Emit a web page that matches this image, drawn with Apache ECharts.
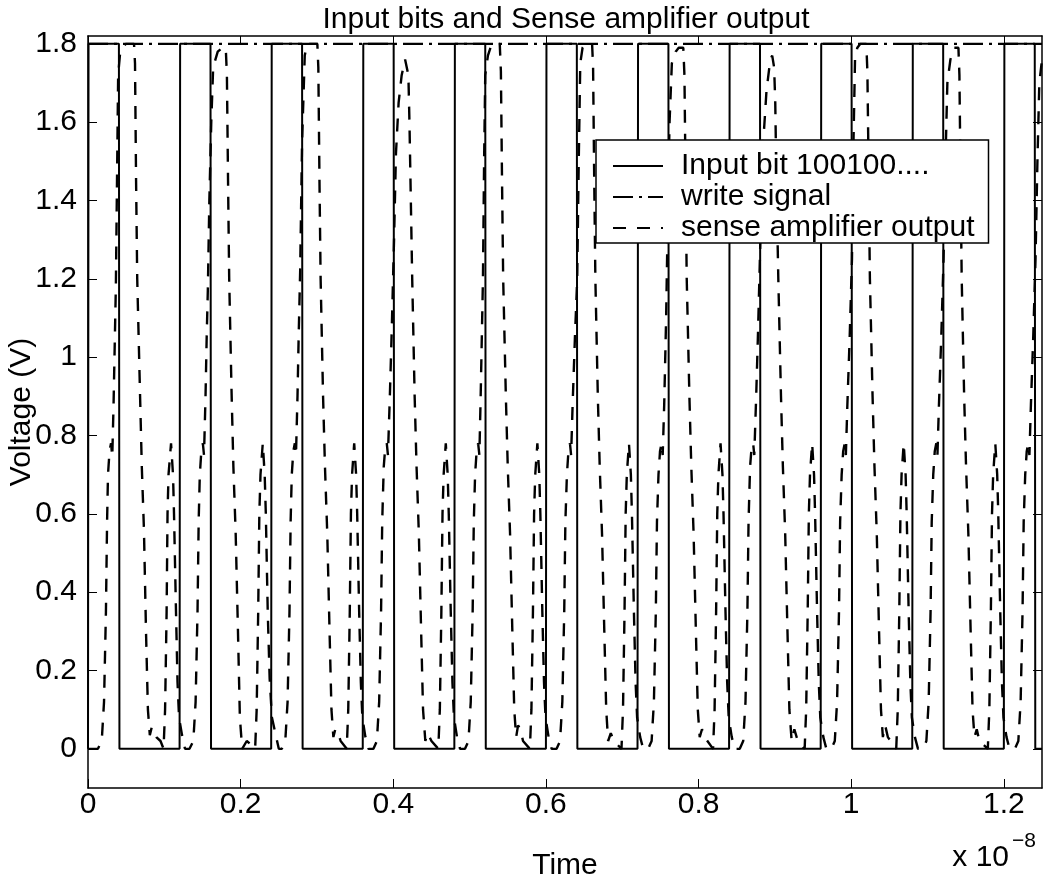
<!DOCTYPE html>
<html lang="en">

<head>
    <meta charset="UTF-8">
    <title>Input bits and Sense amplifier output</title>
    <script src="https://cdn.jsdelivr.net/npm/echarts@6/dist/echarts.min.js"></script>
    <style type="text/css">
    body {
        margin: 0;
        background: #fff;
    }
    .chart-content {
        width: 1047px;
        height: 883px;
    }
    </style>
</head>

<body>
    <div id="main" class="chart-content"></div>
    <script type="text/javascript">
        // time axis is in units of 1e-8 s
        var xTicks = [0, 0.2, 0.4, 0.6, 0.8, 1, 1.2];
        var xTickLabels = ['0', '0.2', '0.4', '0.6', '0.8', '1', '1.2'];
        var yTicks = [0, 0.2, 0.4, 0.6, 0.8, 1, 1.2, 1.4, 1.6, 1.8];
        var yTickLabels = ['0', '0.2', '0.4', '0.6', '0.8', '1', '1.2', '1.4', '1.6', '1.8'];

        // input bit 100100... (solid)
        var inputTime = [0, 0.0007, 0.0405, 0.0412, 0.12, 0.1207, 0.1605, 0.1612, 0.24, 0.2407, 0.2805, 0.2812,
            0.36, 0.3607, 0.4005, 0.4012, 0.48, 0.4807, 0.5205, 0.5212, 0.6, 0.6007, 0.6405, 0.6412,
            0.72, 0.7207, 0.7605, 0.7612, 0.84, 0.8407, 0.8805, 0.8812, 0.96, 0.9607, 1.0005, 1.0012,
            1.08, 1.0807, 1.1205, 1.1212, 1.2, 1.2007, 1.2405, 1.2412, 1.25];
        var inputVolt = [0, 1.8, 1.8, 0, 0, 1.8, 1.8, 0, 0, 1.8, 1.8, 0,
            0, 1.8, 1.8, 0, 0, 1.8, 1.8, 0, 0, 1.8, 1.8, 0,
            0, 1.8, 1.8, 0, 0, 1.8, 1.8, 0, 0, 1.8, 1.8, 0,
            0, 1.8, 1.8, 0, 0, 1.8, 1.8, 0, 0];

        // write signal (dash-dot)
        var writeTime = [0, 1.25];
        var writeVolt = [1.8, 1.8];

        // sense amplifier output (dashed): [time inside period, volts], one list per read period
        var periodStart = [0, 0.12, 0.24, 0.36, 0.48, 0.6, 0.72, 0.84, 0.96, 1.08, 1.2];
        var sense1 = [[0,0],[0.013,0],[0.018,0.02],[0.021,0.12],[0.0235,0.35],[0.025,0.58],[0.0262,0.7],[0.0282,0.76],[0.0302,0.78],[0.0318,0.745],[0.0335,0.88],[0.035,1.03],[0.0365,1.18],[0.038,1.45],[0.0395,1.72],[0.042,1.775],[0.046,1.795],[0.05,1.8],[0.0603,1.8],[0.0616,1.75],[0.063,1.45],[0.0645,1.2],[0.068,0.92],[0.0705,0.72],[0.0733,0.56],[0.076,0.3],[0.0785,0.1],[0.081,0.035],[0.0835,0.055],[0.086,0.06],[0.0895,0.03],[0.095,0.02],[0.099,0],[0.101,0.1],[0.103,0.35],[0.1042,0.6],[0.1055,0.7],[0.1088,0.78],[0.1114,0.7],[0.1127,0.6],[0.1153,0.35],[0.1173,0.17],[0.1193,0.08],[0.1232,0.035],[0.1271,0]];
        var sense2 = [[0.013,0],[0.018,0.02],[0.021,0.12],[0.0235,0.35],[0.025,0.58],[0.0265,0.7],[0.0285,0.76],[0.0305,0.78],[0.032,0.75],[0.034,0.9],[0.0355,1.05],[0.037,1.17],[0.039,1.4],[0.0415,1.6],[0.044,1.74],[0.05,1.78],[0.056,1.79],[0.0605,1.79],[0.062,1.72],[0.0635,1.45],[0.065,1.2],[0.068,0.92],[0.0705,0.72],[0.0735,0.55],[0.0765,0.3],[0.079,0.08],[0.082,0],[0.088,0.02],[0.094,0.01],[0.099,0],[0.101,0.1],[0.103,0.35],[0.1045,0.6],[0.106,0.7],[0.109,0.78],[0.1115,0.7],[0.113,0.6],[0.1155,0.35],[0.118,0.18],[0.121,0.08],[0.1255,0.04],[0.13,0]];
        var sense3 = [[0.014,0],[0.0185,0.02],[0.0215,0.12],[0.024,0.35],[0.0255,0.58],[0.027,0.7],[0.029,0.76],[0.031,0.78],[0.0325,0.75],[0.0345,0.9],[0.036,1.05],[0.038,1.22],[0.0405,1.55],[0.044,1.77],[0.047,1.8],[0.0605,1.8],[0.0618,1.74],[0.0633,1.45],[0.0648,1.2],[0.068,0.9],[0.0705,0.72],[0.0735,0.55],[0.0765,0.3],[0.079,0.1],[0.0815,0.03],[0.084,0.05],[0.087,0.045],[0.091,0.02],[0.099,0],[0.101,0.1],[0.103,0.35],[0.1045,0.6],[0.106,0.7],[0.1088,0.78],[0.1113,0.7],[0.1127,0.6],[0.1153,0.35],[0.1175,0.17],[0.1195,0.08],[0.1235,0.03],[0.1275,0]];
        var sense4 = [[0.014,0],[0.0185,0.02],[0.0215,0.12],[0.024,0.35],[0.0255,0.58],[0.0275,0.72],[0.0295,0.77],[0.0315,0.78],[0.033,0.75],[0.0355,0.9],[0.038,1.07],[0.041,1.3],[0.0435,1.52],[0.047,1.65],[0.051,1.72],[0.0555,1.76],[0.058,1.76],[0.0598,1.72],[0.0612,1.6],[0.063,1.4],[0.0648,1.2],[0.068,0.9],[0.0705,0.72],[0.0735,0.55],[0.0765,0.3],[0.079,0.1],[0.082,0.02],[0.085,0.04],[0.09,0.02],[0.099,0],[0.101,0.1],[0.103,0.35],[0.1045,0.6],[0.106,0.7],[0.1088,0.78],[0.1113,0.7],[0.1127,0.6],[0.1153,0.35],[0.1175,0.17],[0.1195,0.08],[0.1235,0.03],[0.1275,0]];
        var sense5 = [[0.014,0],[0.0185,0.02],[0.0215,0.12],[0.024,0.35],[0.0255,0.58],[0.0272,0.7],[0.0292,0.76],[0.0312,0.78],[0.0328,0.75],[0.0345,0.9],[0.036,1.05],[0.0375,1.2],[0.039,1.5],[0.0405,1.72],[0.044,1.77],[0.049,1.8],[0.0595,1.8],[0.061,1.73],[0.0625,1.45],[0.064,1.2],[0.0675,0.9],[0.07,0.72],[0.073,0.55],[0.076,0.3],[0.0785,0.1],[0.081,0.03],[0.0835,0.06],[0.0865,0.05],[0.09,0.02],[0.099,0],[0.101,0.1],[0.103,0.35],[0.1045,0.6],[0.106,0.7],[0.1088,0.78],[0.1113,0.7],[0.1127,0.6],[0.1153,0.35],[0.1175,0.17],[0.1195,0.08],[0.1235,0.03],[0.1275,0]];
        var sense6 = [[0.014,0],[0.0185,0.02],[0.0215,0.12],[0.024,0.35],[0.0255,0.58],[0.0275,0.7],[0.0295,0.76],[0.0315,0.78],[0.033,0.75],[0.035,0.88],[0.038,1.05],[0.041,1.2],[0.043,1.5],[0.045,1.75],[0.048,1.79],[0.052,1.8],[0.0605,1.8],[0.0618,1.74],[0.0633,1.45],[0.0648,1.2],[0.068,0.9],[0.0705,0.72],[0.0735,0.55],[0.0765,0.3],[0.079,0.1],[0.0815,0.02],[0.085,0.04],[0.089,0.02],[0.099,0],[0.101,0.1],[0.103,0.35],[0.1045,0.6],[0.106,0.7],[0.1088,0.78],[0.1113,0.7],[0.1127,0.6],[0.1153,0.35],[0.1175,0.17],[0.1195,0.08],[0.1235,0.03],[0.1275,0]];
        var sense7 = [[0.014,0],[0.0185,0.02],[0.0215,0.12],[0.024,0.35],[0.0255,0.58],[0.0275,0.7],[0.0295,0.76],[0.0315,0.78],[0.033,0.75],[0.035,0.88],[0.0375,1.1],[0.04,1.4],[0.042,1.6],[0.045,1.75],[0.05,1.78],[0.054,1.79],[0.06,1.79],[0.0615,1.72],[0.063,1.45],[0.0645,1.2],[0.068,0.9],[0.0705,0.72],[0.0735,0.55],[0.0765,0.3],[0.079,0.1],[0.0815,0.03],[0.0845,0.05],[0.088,0.03],[0.099,0],[0.101,0.1],[0.103,0.35],[0.1045,0.6],[0.106,0.7],[0.1088,0.78],[0.1113,0.7],[0.1127,0.6],[0.1153,0.35],[0.1175,0.17],[0.1195,0.08],[0.1235,0.03],[0.1275,0]];
        var sense8 = [[0.014,0],[0.0185,0.02],[0.0215,0.12],[0.024,0.35],[0.0255,0.58],[0.0275,0.72],[0.0295,0.77],[0.0315,0.78],[0.033,0.75],[0.0355,0.9],[0.038,1.07],[0.041,1.3],[0.045,1.556],[0.049,1.68],[0.054,1.76],[0.0565,1.77],[0.059,1.74],[0.0605,1.65],[0.062,1.45],[0.0645,1.2],[0.068,0.9],[0.0705,0.72],[0.0735,0.55],[0.0765,0.3],[0.079,0.1],[0.082,0.02],[0.0855,0.05],[0.09,0.02],[0.099,0],[0.101,0.1],[0.103,0.35],[0.1045,0.6],[0.106,0.7],[0.1088,0.78],[0.1113,0.7],[0.1127,0.6],[0.1153,0.35],[0.1175,0.17],[0.1195,0.08],[0.1235,0.03],[0.1275,0]];
        var sense9 = [[0.014,0],[0.0185,0.02],[0.0215,0.12],[0.024,0.35],[0.0255,0.58],[0.0275,0.7],[0.0295,0.76],[0.0315,0.78],[0.033,0.75],[0.035,0.88],[0.038,1.05],[0.041,1.25],[0.043,1.55],[0.045,1.76],[0.048,1.79],[0.052,1.8],[0.0598,1.8],[0.0612,1.73],[0.063,1.45],[0.0645,1.2],[0.068,0.9],[0.0705,0.72],[0.0735,0.55],[0.0765,0.3],[0.079,0.1],[0.0815,0.03],[0.0845,0.06],[0.088,0.03],[0.099,0],[0.101,0.1],[0.103,0.35],[0.1045,0.6],[0.106,0.7],[0.1088,0.78],[0.1113,0.7],[0.1127,0.6],[0.1153,0.35],[0.1175,0.17],[0.1195,0.08],[0.1235,0.03],[0.1275,0]];
        var sense10 = [[0.014,0],[0.0185,0.02],[0.0215,0.12],[0.024,0.35],[0.0255,0.58],[0.0275,0.7],[0.0295,0.76],[0.0315,0.78],[0.033,0.75],[0.035,0.88],[0.038,1.05],[0.041,1.25],[0.0435,1.5],[0.046,1.7],[0.05,1.76],[0.055,1.79],[0.0605,1.79],[0.0618,1.72],[0.0633,1.45],[0.0648,1.2],[0.068,0.9],[0.0705,0.72],[0.0735,0.55],[0.0765,0.3],[0.079,0.1],[0.0815,0.03],[0.0845,0.05],[0.088,0.02],[0.099,0],[0.101,0.1],[0.103,0.35],[0.1045,0.6],[0.106,0.7],[0.1088,0.78],[0.1113,0.7],[0.1127,0.6],[0.1153,0.35],[0.1175,0.17],[0.1195,0.08],[0.1235,0.03],[0.1275,0]];
        var sense11 = [[0.0145,0],[0.019,0.02],[0.022,0.12],[0.0245,0.35],[0.026,0.58],[0.028,0.7],[0.03,0.76],[0.032,0.78],[0.0335,0.75],[0.0355,0.88],[0.0385,1.05],[0.0415,1.25],[0.044,1.5],[0.0465,1.7],[0.05,1.76]];

        var fontFamily = '"Liberation Sans", Arial, Helvetica, sans-serif';

        showChart();

        function showChart() {
            var myChart = echarts.init(document.getElementById('main'));

            var inputData = [];
            for (var i = 0; i < inputTime.length; i++) {
                inputData.push([inputTime[i], inputVolt[i]]);
            }
            var writeData = [];
            for (var j = 0; j < writeTime.length; j++) {
                writeData.push([writeTime[j], writeVolt[j]]);
            }
            var sensePeriods = [sense1, sense2, sense3, sense4, sense5, sense6, sense7, sense8, sense9, sense10, sense11];
            var senseData = [];
            sensePeriods.forEach(function (pts, k) {
                pts.forEach(function (p) {
                    senseData.push([+(periodStart[k] + p[0]).toFixed(5), p[1]]);
                });
            });

            function xLabel(v) {
                var idx = xTicks.indexOf(+v.toFixed(2));
                return idx >= 0 ? xTickLabels[idx] : '';
            }
            function yLabel(v) {
                var idx = yTicks.indexOf(+v.toFixed(2));
                return idx >= 0 ? yTickLabels[idx] : '';
            }

            var axisLine = { show: true, onZero: false, lineStyle: { color: '#000', width: 1.5 } };
            var tickStyle = { color: '#000', width: 1 };

            var option = {
                animation: false,
                backgroundColor: '#fff',
                grid: { left: 88, right: 5, top: 36, bottom: 95, containLabel: false, outerBoundsMode: 'none' },
                legend: {
                    orient: 'vertical',
                    left: 596,
                    top: 140,
                    itemWidth: 50,
                    itemHeight: 14,
                    itemGap: 1,
                    padding: [11, 14, 0, 16],
                    backgroundColor: '#fff',
                    borderColor: '#000',
                    borderWidth: 1.5,
                    selectedMode: false,
                    itemStyle: { opacity: 0 },
                    textStyle: { fontSize: 30, color: '#000', fontFamily: fontFamily, padding: [0, 0, 0, 13] },
                    data: ['Input bit 100100....', 'write signal', 'sense amplifier output']
                },
                graphic: [{
                    type: 'text',
                    style: { x: 566, y: 20, text: 'Input bits and Sense amplifier output', fill: '#000',
                        font: '30px ' + fontFamily, textAlign: 'center', textVerticalAlign: 'middle' }
                }, {
                    type: 'text',
                    style: { x: 1009, y: 858, text: 'x 10', fill: '#000',
                        font: '30px ' + fontFamily, textAlign: 'right', textVerticalAlign: 'middle' }
                }, {
                    type: 'text',
                    style: { x: 1012, y: 841, text: '\u22128', fill: '#000',
                        font: '21px ' + fontFamily, textAlign: 'left', textVerticalAlign: 'middle' }
                }],
                xAxis: [{
                    type: 'value', min: 0, max: 1.25, position: 'bottom',
                    name: 'Time', nameLocation: 'middle', nameGap: 63, nameMoveOverlap: false,
                    nameTextStyle: { fontSize: 30, color: '#000', fontFamily: fontFamily },
                    axisLine: axisLine,
                    axisTick: { show: true, inside: true, length: 9, lineStyle: tickStyle, customValues: xTicks },
                    axisLabel: { show: true, fontSize: 30, color: '#000', fontFamily: fontFamily, margin: 2,
                        customValues: xTicks, formatter: xLabel },
                    splitLine: { show: false }
                }, {
                    type: 'value', min: 0, max: 1.25, position: 'top',
                    axisLine: axisLine,
                    axisTick: { show: true, inside: true, length: 9, lineStyle: tickStyle, customValues: xTicks },
                    axisLabel: { show: false },
                    splitLine: { show: false }
                }],
                yAxis: [{
                    type: 'value', min: -0.1, max: 1.82, position: 'left',
                    name: 'Voltage (V)', nameLocation: 'middle', nameGap: 51, nameRotate: 90, nameMoveOverlap: false,
                    nameTextStyle: { fontSize: 30, color: '#000', fontFamily: fontFamily },
                    axisLine: axisLine,
                    axisTick: { show: true, inside: true, length: 9, lineStyle: tickStyle, customValues: yTicks },
                    axisLabel: { show: true, fontSize: 30, color: '#000', fontFamily: fontFamily, margin: 11,
                        customValues: yTicks, formatter: yLabel },
                    splitLine: { show: false }
                }, {
                    type: 'value', min: -0.1, max: 1.82, position: 'right',
                    axisLine: axisLine,
                    axisTick: { show: true, inside: true, length: 9, lineStyle: tickStyle, customValues: yTicks },
                    axisLabel: { show: false },
                    splitLine: { show: false }
                }],
                series: [{
                    name: 'Input bit 100100....',
                    type: 'line',
                    data: inputData,
                    symbol: 'none',
                    lineStyle: { color: '#000', width: 2, type: 'solid' },
                    itemStyle: { color: '#000' }
                }, {
                    name: 'write signal',
                    type: 'line',
                    data: writeData,
                    symbol: 'none',
                    lineStyle: { color: '#000', width: 2.4, type: [20, 6, 3, 6] },
                    itemStyle: { color: '#000' }
                }, {
                    name: 'sense amplifier output',
                    type: 'line',
                    data: senseData,
                    symbol: 'none',
                    lineStyle: { color: '#000', width: 2.4, type: [13, 11] },
                    itemStyle: { color: '#000' }
                }]
            };

            myChart.setOption(option);
        }
    </script>
</body>

</html>
